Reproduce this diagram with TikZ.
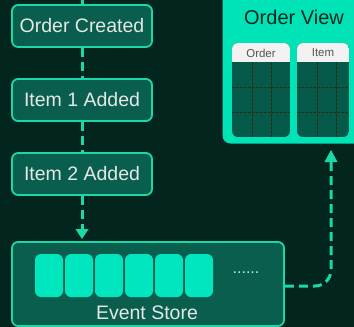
\documentclass[tikz,border=0pt]{standalone}
\usepackage{fontspec}
\setmainfont{Liberation Sans}
\usetikzlibrary{arrows.meta}

\definecolor{bgdark}{HTML}{02261D}
\definecolor{boxfill}{HTML}{0A5E4E}
\definecolor{mint}{HTML}{1AD9A8}
\definecolor{cellmint}{HTML}{00E6BE}
\definecolor{viewmint}{HTML}{00E3B6}
\definecolor{tablebody}{HTML}{055A49}
\definecolor{gridline}{HTML}{2E2A16}
\definecolor{lighttext}{HTML}{E4E8E6}
\definecolor{headtext}{HTML}{555555}

\tikzset{
  eventbox/.style={draw=mint, line width=1.8pt, fill=boxfill, rounded corners=6pt,
    minimum width=140pt, minimum height=42pt, inner sep=0pt,
    text=lighttext, font=\fontsize{19.5}{22}\selectfont},
  cell/.style={fill=cellmint, rounded corners=6pt, minimum width=28pt,
    minimum height=43pt, inner sep=0pt},
  flow/.style={draw=mint, line width=3pt, dash pattern=on 9pt off 5pt},
  tablehead/.style={font=\fontsize{11.5}{13}\selectfont, text=headtext},
  gridrule/.style={draw=gridline, line width=1pt, dash pattern=on 3pt off 1pt},
}

\begin{document}
\begin{tikzpicture}[x=1pt, y=-1pt]
  % canvas
  \fill[bgdark] (0,0) rectangle (354,327);
  \useasboundingbox (0,0) rectangle (354,327);

  % event stream
  \coordinate (streamtop) at (82,-4);
  \node[eventbox] (created) at (82,26) {Order Created};
  \node[eventbox] (item1) at (82,100) {Item 1 Added};
  \node[eventbox] (item2) at (82,174) {Item 2 Added};

  % event store
  \node[draw=mint, line width=1.8pt, fill=boxfill, rounded corners=6pt,
    minimum width=272pt, minimum height=84pt, inner sep=0pt] (store) at (148,284) {};
  \foreach \i/\cx in {1/49, 2/79, 3/109, 4/139, 5/169, 6/199} {
    \node[cell] (c\i) at (\cx,275.5) {};
  }
  \node[text=lighttext!85!mint, font=\fontsize{16}{18}\selectfont, inner sep=0pt]
    (more) at (246,273) {......};
  \node[text=lighttext, font=\fontsize{19.5}{22}\selectfont, inner sep=0pt]
    (storelabel) at (147,313) {Event Store};

  % read model
  \node[fill=viewmint, rounded corners=8pt, minimum width=142pt,
    minimum height=155pt, inner sep=0pt] (view) at (293.5,66) {};
  \node[text=bgdark, font=\fontsize{20}{22}\selectfont, inner sep=0pt]
    (viewtitle) at (294,17) {Order View};

  % tables inside the view: header strip, 3x3 body grid
  \foreach \name/\xa/\xb/\ca/\cb/\title in
      {ordertab/232/290/252/271/Order, itemtab/297/349/317/336/Item} {
    \begin{scope}
      \clip[rounded corners=6pt] (\xa,43) rectangle (\xb,137);
      \fill[tablebody] (\xa,43) rectangle (\xb,137);
      \fill[white!95!black] (\xa,43) rectangle (\xb,62);
      \draw[gridrule] (\ca,62) -- (\ca,137);
      \draw[gridrule] (\cb,62) -- (\cb,137);
      \draw[gridrule] (\xa,87) -- (\xb,87);
      \draw[gridrule] (\xa,112) -- (\xb,112);
    \end{scope}
    \node[tablehead, inner sep=0pt] (\name) at ({(\xa+\xb)/2},53) {\title};
  }

  % connectors
  \draw[flow] (streamtop) -- (created.north);
  \draw[flow] (created.south) -- (item1.north);
  \draw[flow] (item1.south) -- (item2.north);
  \draw[flow] (item2.south) -- (82,232);
  \fill[mint] (75.5,229) -- (88.5,229) -- (82,239) -- cycle;

  \coordinate (bend) at (331,286);
  \coordinate (viewentry) at (331,162);
  \draw[flow, rounded corners=16pt] (store.east |- bend) -- (bend) -- (viewentry);
  \fill[mint] (324.5,162) -- (337.5,162) -- (331,150) -- cycle;
\end{tikzpicture}
\end{document}
